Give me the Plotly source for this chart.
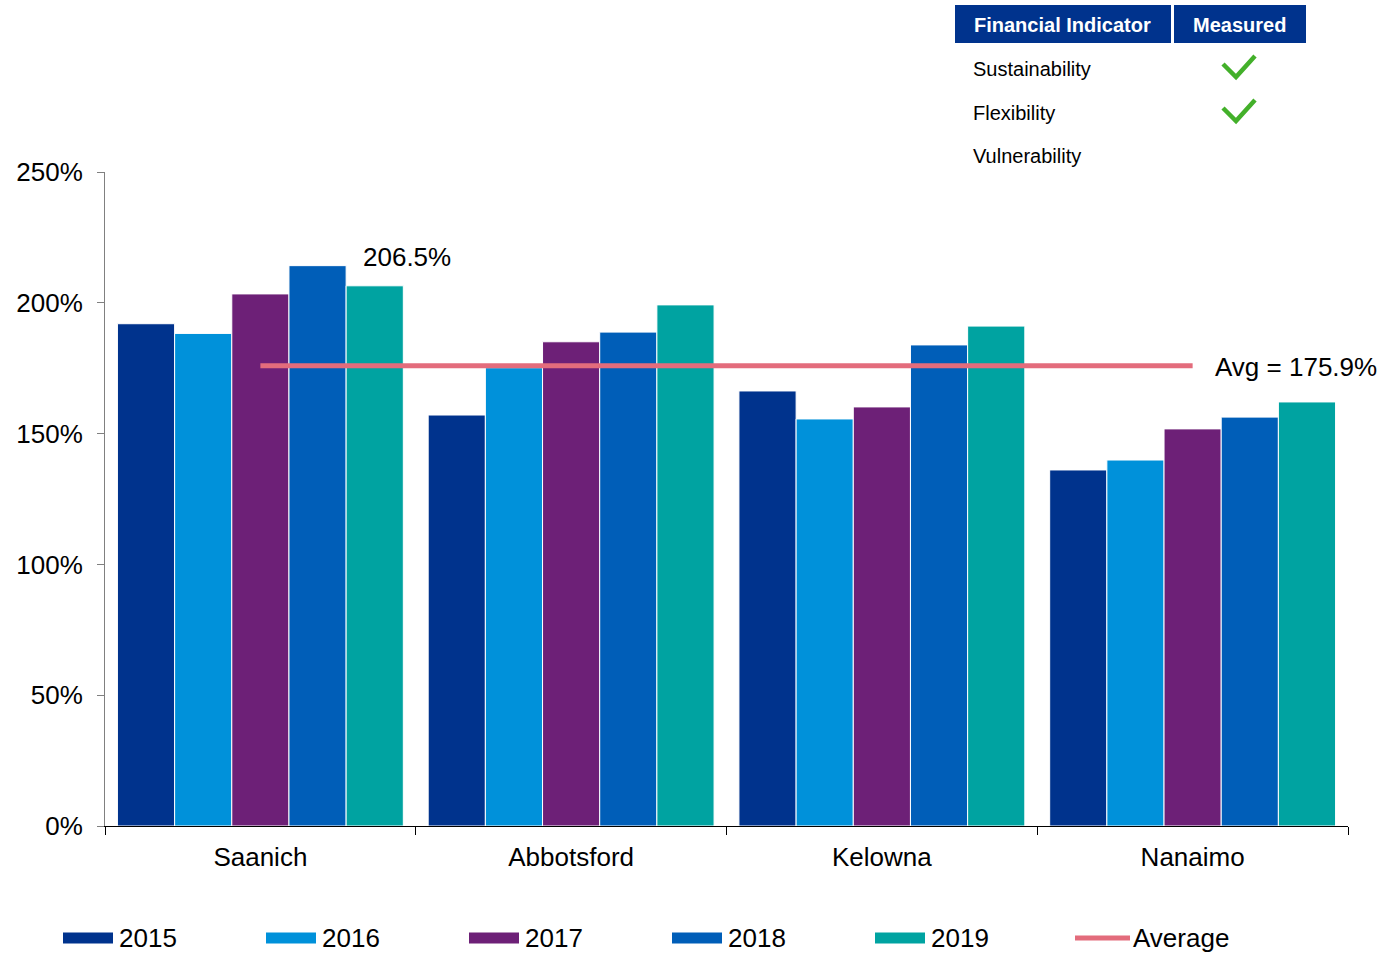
import plotly.graph_objects as go

# ---- data ----
cities = ["Saanich", "Abbotsford", "Kelowna", "Nanaimo"]
years = ["2015", "2016", "2017", "2018", "2019"]
values = {
    "2015": [192.0, 157.1, 166.3, 136.1],
    "2016": [188.3, 175.2, 155.6, 139.9],
    "2017": [203.4, 185.1, 160.2, 151.8],
    "2018": [214.2, 188.8, 183.9, 156.3],
    "2019": [206.5, 199.2, 191.1, 162.1],
}
average_value = 175.9
y_ticks = [0, 50, 100, 150, 200, 250]

indicators = ["Sustainability", "Flexibility", "Vulnerability"]
measured = [True, True, False]

colors = {
    "2015": "#00338D",
    "2016": "#0091DA",
    "2017": "#6D2077",
    "2018": "#005EB8",
    "2019": "#00A3A1",
}
avg_color = "#E36C7C"
font_family = "Arial, Liberation Sans, sans-serif"

W, H = 1397, 953
L, R, T, B = 105, 49, 172, 127
PW, PH = W - L - R, H - T - B


def px(x):
    return (x - L) / PW


def py(y):
    return (H - B - y) / PH


fig = go.Figure()
for yr in years:
    fig.add_trace(go.Bar(
        x=cities, y=values[yr], name=yr,
        marker=dict(color=colors[yr], line=dict(color="white", width=1)),
        showlegend=False,
    ))

fig.add_trace(go.Scatter(
    x=cities, y=[average_value] * len(cities), mode="lines", name="Average",
    line=dict(color=avg_color, width=5), showlegend=False,
))

annotations = []
shapes = []

# label on the Saanich 2019 bar
annotations.append(dict(
    x="Saanich", y=values["2019"][0], xref="x", yref="y",
    text=f"{values['2019'][0]:.1f}%", showarrow=False,
    xanchor="center", yanchor="bottom", xshift=147, yshift=12,
    font=dict(size=26, color="#000"),
))
# average label
annotations.append(dict(
    x=cities[-1], y=average_value, xref="x", yref="y",
    text=f"Avg = {average_value:.1f}%", showarrow=False,
    xanchor="left", yanchor="middle", xshift=20, yshift=-1,
    font=dict(size=26, color="#000"),
))

# bottom legend
leg_y = 938
leg_x0 = 63
leg_step = 203
for i, yr in enumerate(years):
    x0 = leg_x0 + i * leg_step
    shapes.append(dict(type="rect", xref="paper", yref="paper",
                       x0=px(x0), x1=px(x0 + 50), y0=py(leg_y - 5.5), y1=py(leg_y + 5.5),
                       fillcolor=colors[yr], line=dict(width=0)))
    annotations.append(dict(x=px(x0 + 54), y=py(leg_y), xref="paper", yref="paper",
                            text=yr, showarrow=False, xanchor="left", yanchor="middle",
                            font=dict(size=26, color="#000")))
x0 = 1075
shapes.append(dict(type="line", xref="paper", yref="paper",
                   x0=px(x0), x1=px(x0 + 55), y0=py(leg_y), y1=py(leg_y),
                   line=dict(color=avg_color, width=5)))
annotations.append(dict(x=px(x0 + 56), y=py(leg_y), xref="paper", yref="paper",
                        text="Average", showarrow=False, xanchor="left", yanchor="middle",
                        font=dict(size=26, color="#000")))

# indicator table
hdr_color = "#00338D"
for (hx0, hx1, label) in [(955, 1171, "Financial Indicator"), (1174, 1306, "Measured")]:
    shapes.append(dict(type="rect", xref="paper", yref="paper",
                       x0=px(hx0), x1=px(hx1), y0=py(43), y1=py(5),
                       fillcolor=hdr_color, line=dict(width=0)))
    annotations.append(dict(x=px((hx0 + hx1) / 2 - 1), y=py(25), xref="paper", yref="paper",
                            text=f"<b>{label}</b>", showarrow=False,
                            xanchor="center", yanchor="middle",
                            font=dict(size=20, color="white")))
row_y = [69, 113, 156]
for name, ok, ry in zip(indicators, measured, row_y):
    annotations.append(dict(x=px(971), y=py(ry), xref="paper", yref="paper",
                            text=name, showarrow=False, xanchor="left", yanchor="middle",
                            font=dict(size=20, color="#000")))
    if ok:
        pts = [(1223, ry - 5), (1236, ry + 8), (1255, ry - 13)]
        path = "M " + " L ".join(f"{px(a):.5f},{py(b):.5f}" for a, b in pts)
        shapes.append(dict(type="path", xref="paper", yref="paper", path=path,
                           line=dict(color="#43B02A", width=4.5)))

fig.update_layout(
    width=W, height=H,
    margin=dict(l=L, r=R, t=T, b=B, pad=0),
    paper_bgcolor="white", plot_bgcolor="white",
    font=dict(family=font_family, size=26, color="#000"),
    barmode="group", bargap=0.08, bargroupgap=0,
    showlegend=False,
    annotations=annotations, shapes=shapes,
)
fig.update_xaxes(
    range=[-0.5, len(cities) - 0.5], autorange=False,
    showline=True, linecolor="#000", linewidth=1,
    ticks="outside", tickson="boundaries", ticklen=8, tickcolor="#000",
    showgrid=False, tickfont=dict(size=26, color="#000"),
    ticklabelstandoff=8,
)
fig.update_yaxes(
    range=[0, 250], tickvals=y_ticks, ticktext=[f"{v}%" for v in y_ticks],
    showline=True, linecolor="#808080", linewidth=1,
    ticks="outside", ticklen=7, tickcolor="#808080",
    showgrid=False, zeroline=False, tickfont=dict(size=26, color="#000"),
    ticklabelstandoff=9,
)

fig.write_html("out.html")
